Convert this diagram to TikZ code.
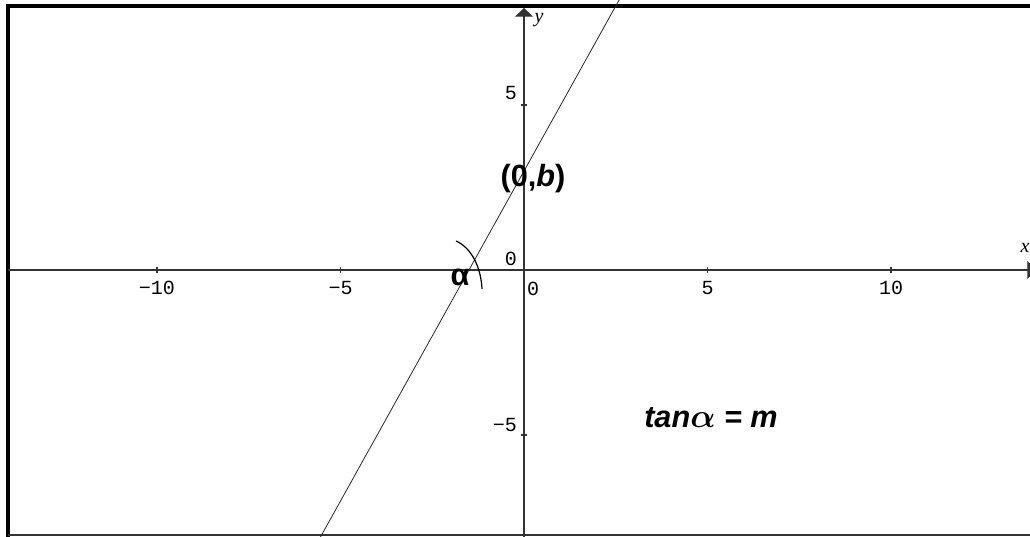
\documentclass[tikz,border=0pt]{standalone}
\usepackage{amsmath}
\usepackage{fontspec}
\setmainfont{Liberation Sans}
\newfontfamily\tickfont{Liberation Mono}
\newfontfamily\axisfont{Liberation Serif}
\usetikzlibrary{arrows.meta}
\definecolor{axisGray}{HTML}{333333}

\begin{document}
\begin{tikzpicture}[x=27.525pt, y=24.75pt,
    ticklbl/.style={font=\tickfont\fontsize{15}{15}\selectfont, inner sep=0pt},
    axislbl/.style={font=\axisfont\itshape\fontsize{15}{15}\selectfont, inner sep=0pt},
    biglbl/.style={font=\bfseries\fontsize{23}{23}\selectfont, inner sep=0pt},
    axisline/.style={axisGray, line width=0.8pt, -{Triangle[length=6.5pt, width=13.5pt]}}]
    \useasboundingbox (-14.278,-8.061) rectangle (13.787,8.182);
    \clip (-14.278,-8.061) rectangle (13.787,8.182);
    % frame
    \draw[line width=2.6pt] (14.2,8.0) -- (-14.06,8.0) -- (-14.06,-8.3);
    \draw[axisGray, line width=1.2pt] (-14.06,-8.03) -- (14.2,-8.03);
    % axes
    \draw[axisline] (-14.06,0) -- (13.95,0);
    \draw[axisline] (0,-8.3) -- (0,7.94);
    \node[axislbl] (xlbl) at (13.65,0.667) {x};
    \node[axislbl] (ylbl) at (0.41,7.58) {y};
    \foreach \t/\lbl in {-10/{−10}, -5/{−5}, 5/{5}, 10/{10}} {
      \draw[axisGray, line width=0.8pt] (\t,-0.1) -- (\t,0.1);
      \node[ticklbl, anchor=north] at (\t,-0.33) {\lbl};
    }
    \foreach \t/\lbl/\yy in {5/{5}/5.15, -5/{−5}/-4.91} {
      \draw[axisGray, line width=0.8pt] (-0.09,\t) -- (0.09,\t);
      \node[ticklbl, anchor=south east] at (-0.19,\yy) {\lbl};
    }
    \node[ticklbl, anchor=north west] (zerox) at (0.08,-0.36) {0};
    \node[ticklbl, anchor=south east] (zeroy) at (-0.19,0.12) {0};
    % the line y = 2x + 3
    \draw[black!85, line width=0.6pt] (-5.65,-8.3) -- (2.65,8.3);
    % angle mark
    \draw[line width=0.9pt] (-1.853,0.879) .. controls (-1.417,0.667) and (-1.172,0.06) .. (-1.144,-0.576);
    \node[biglbl] (ang) at (-1.744,-0.21) {α};
    \node[biglbl] (icpt) at (0.245,2.76) {(0,\textit{b})};
    \node[biglbl, font=\bfseries\itshape\fontsize{23}{23}\selectfont] (slope) at (5.095,-4.485) {tan$\boldsymbol{\alpha}$ = m};
\end{tikzpicture}
\end{document}
